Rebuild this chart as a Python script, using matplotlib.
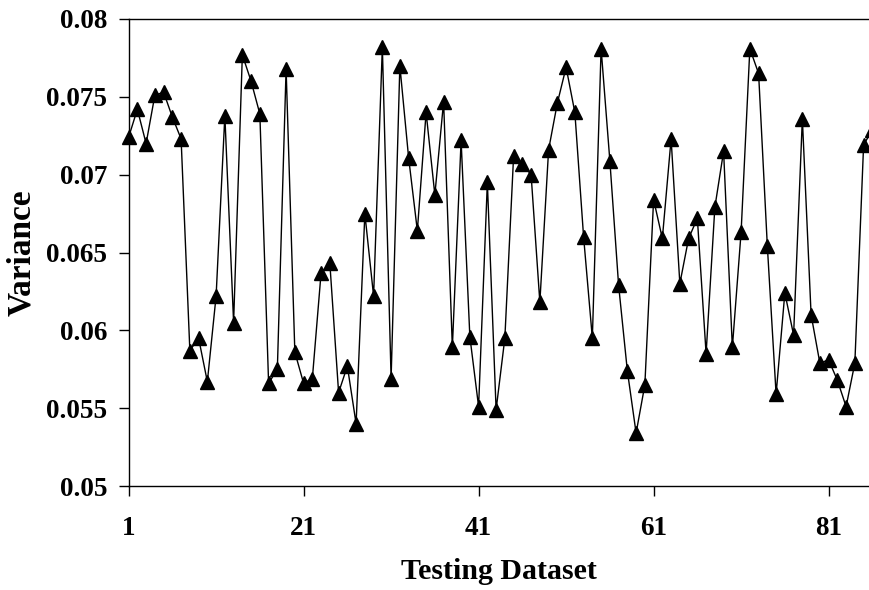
import matplotlib
matplotlib.use("Agg")
import matplotlib.pyplot as plt

dataset_index = list(range(1, 87))
variance = [
    0.0724, 0.0742, 0.0720, 0.0751, 0.0753, 0.0737, 0.0723, 0.0587, 0.0595, 0.0567,
    0.0622, 0.0738, 0.0605, 0.0777, 0.0760, 0.0739, 0.0566, 0.0575, 0.0768, 0.0586,
    0.0566, 0.0569, 0.0637, 0.0643, 0.0560, 0.0577, 0.0540, 0.0675, 0.0622, 0.0782,
    0.0569, 0.0770, 0.0711, 0.0664, 0.0740, 0.0687, 0.0747, 0.0589, 0.0722, 0.0596,
    0.0551, 0.0695, 0.0549, 0.0595, 0.0712, 0.0707, 0.0700, 0.0618, 0.0716, 0.0746,
    0.0769, 0.0740, 0.0660, 0.0595, 0.0781, 0.0709, 0.0629, 0.0574, 0.0534, 0.0565,
    0.0684, 0.0659, 0.0723, 0.0630, 0.0659, 0.0672, 0.0585, 0.0679, 0.0715, 0.0589,
    0.0663, 0.0781, 0.0765, 0.0654, 0.0559, 0.0624, 0.0597, 0.0736, 0.0610, 0.0579,
    0.0581, 0.0568, 0.0551, 0.0579, 0.0719, 0.0729,
]
x_ticks = [1, 21, 41, 61, 81]
y_ticks = [0.05, 0.055, 0.06, 0.065, 0.07, 0.075, 0.08]
y_tick_labels = ["0.05", "0.055", "0.06", "0.065", "0.07", "0.075", "0.08"]

plt.rcParams['font.family'] = ['Liberation Serif', 'DejaVu Serif']
plt.rcParams['font.weight'] = 'bold'

W, H = 869, 590
fig = plt.figure(figsize=(W / 100, H / 100), dpi=100)
left_px, right_px, top_px, bottom_px = 128.6, 869, 19, 486
ax = fig.add_axes([left_px / W, 1 - bottom_px / H, (right_px - left_px) / W, (bottom_px - top_px) / H])

ax.plot(dataset_index, variance, color='black', linewidth=1.0, marker='^',
        markersize=10, markerfacecolor='black', markeredgecolor='black', clip_on=False)

ax.set_xlim(1, 1 + (right_px - left_px) / 8.75)
ax.set_ylim(0.05, 0.08)
ax.set_xticks(x_ticks)
ax.set_xticklabels([str(t) for t in x_ticks])
ax.set_yticks(y_ticks)
ax.set_yticklabels(y_tick_labels)

ax.spines['right'].set_visible(False)
for s in ['left', 'bottom', 'top']:
    ax.spines[s].set_linewidth(1.0)
    ax.spines[s].set_color('black')

ax.tick_params(axis='both', direction='out', length=7, width=1.0, colors='black')
ax.tick_params(axis='x', pad=14.5, labelsize=19.5)
ax.tick_params(axis='y', pad=8.5, labelsize=19.5)
for lab in ax.get_xticklabels() + ax.get_yticklabels():
    lab.set_fontweight('bold')

ax.set_xlabel("Testing Dataset", fontsize=21.5, fontweight='bold', labelpad=12)
ax.set_ylabel("Variance", fontsize=24, fontweight='bold', labelpad=6)

fig.savefig("out.png", dpi=100)
